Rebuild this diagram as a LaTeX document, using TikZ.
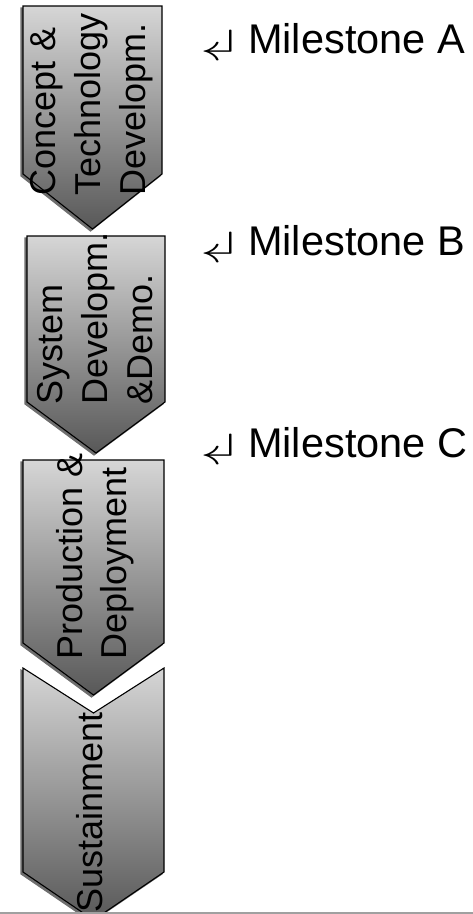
\documentclass[tikz,border=0pt]{standalone}
\usepackage{fontspec}
\setmainfont{Liberation Sans}
\newfontfamily\symfont{Latin Modern Math}
\definecolor{shadeTop}{RGB}{214,214,214}
\definecolor{shadeBot}{RGB}{88,88,88}
\definecolor{shadowcol}{RGB}{110,110,110}
\definecolor{rulegray}{RGB}{160,160,160}
\newcommand{\retarrow}{\scalebox{1.55}[0.9]{↲}}
\begin{document}
\begin{tikzpicture}[x=1pt,y=-1pt,
  phase/.style={draw=black, line width=1.1pt, top color=shadeTop, bottom color=shadeBot, line join=miter},
  shadowshape/.style={draw=shadowcol, line width=1.1pt, fill=shadowcol},
  lbl/.style={rotate=90, anchor=base west, inner sep=0pt, font=\fontsize{36}{43}\selectfont},
  ms/.style={anchor=base west, inner sep=0pt, font=\fontsize{41.5}{50}\selectfont},
  arr/.style={anchor=base east, inner sep=0pt, font=\symfont\fontsize{40}{40}\selectfont}
  ]
\useasboundingbox (0,0) rectangle (473,914);
\clip (0,0) rectangle (473,914);
% shadows
\begin{scope}[shift={(-2,2)}]
  \path[shadowshape] (23,6) -- (162,6) -- (162,174) -- (92.5,229) -- (23,174) -- cycle;
  \path[shadowshape] (27,236) -- (165,236) -- (165,402) -- (96,453) -- (27,402) -- cycle;
  \path[shadowshape] (23,460) -- (164,460) -- (164,643) -- (93.5,695) -- (23,643) -- cycle;
  \path[shadowshape] (23,668) -- (93.5,713) -- (164,668) -- (164,872) -- (93.5,920) -- (23,872) -- cycle;
\end{scope}
% phases
\path[phase] (23,6) -- (162,6) -- (162,174) -- (92.5,229) -- (23,174) -- cycle;
\path[phase] (27,236) -- (165,236) -- (165,402) -- (96,453) -- (27,402) -- cycle;
\path[phase] (23,460) -- (164,460) -- (164,643) -- (93.5,695) -- (23,643) -- cycle;
\path[phase] (23,668) -- (93.5,713) -- (164,668) -- (164,872) -- (93.5,920) -- (23,872) -- cycle;
% phase labels
\node[lbl] (p1a) at (55,196) {Concept \&};
\node[lbl] (p1b) at (100,196) {Technology};
\node[lbl] (p1c) at (145,196) {Developm.};
\node[lbl] (p2a) at (62,405) {System};
\node[lbl] (p2b) at (107,405) {Developm.};
\node[lbl] (p2c) at (152,405) {\&Demo.};
\node[lbl] (p3a) at (82,660) {Production \&};
\node[lbl] (p3b) at (126,660) {Deployment};
\node[lbl] (p4a) at (102,913) {Sustainment};
% milestones
\node[ms] (mA) at (248,53) {Milestone A};
\node[ms] (mB) at (248,255) {Milestone B};
\node[ms] (mC) at (248,457) {Milestone C};
\node[arr] (aA) at ([xshift=-12,yshift=-1]mA.base west) {\retarrow};
\node[arr] (aB) at ([xshift=-12,yshift=-1]mB.base west) {\retarrow};
\node[arr] (aC) at ([xshift=-12,yshift=-1]mC.base west) {\retarrow};
% bottom rule
\draw[rulegray, line width=1.5pt] (0,913) -- (473,913);
\end{tikzpicture}
\end{document}
